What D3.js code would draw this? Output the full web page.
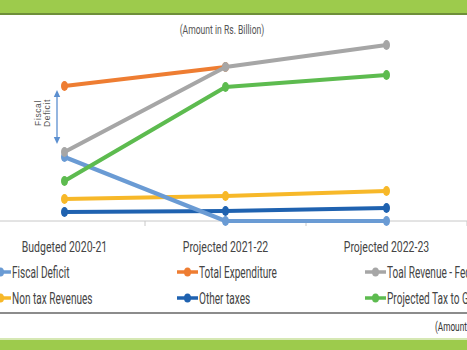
<!DOCTYPE html>
<html><head><meta charset="utf-8">
<script src="https://cdn.jsdelivr.net/npm/d3@7"></script>
<style>body{margin:0;background:#fff}svg{display:block}</style>
</head><body><svg id="c" width="467" height="350"></svg>
<script>
const categories = ["Budgeted 2020-21", "Projected 2021-22", "Projected 2022-23"];
const fiscalDeficit = [3200, 0, 0];
const totalExpenditure = [6750, 7700, null];
const totalRevenue = [3450, 7700, 8800];
const nonTaxRevenues = [1100, 1250, 1500];
const otherTaxes = [450, 500, 650];
const projectedTaxToGDP = [2000, 6700, 7300];
const seriesNames = ["Fiscal Deficit", "Total Expenditure", "Toal Revenue - Federal", "Non tax Revenues", "Other taxes", "Projected Tax to GDP"];
const seriesColors = ["#6A9BD4", "#EE7D32", "#A6A6A6", "#F7B829", "#1F62B0", "#5DBB4F"];
const seriesValues = [fiscalDeficit, totalExpenditure, totalRevenue, nonTaxRevenues, otherTaxes, projectedTaxToGDP];
const titleText = "(Amount in Rs. Billion)";

const svg = d3.select("#c");
const font = "Roboto,'Liberation Sans',sans-serif";

function ctext(parent, x, y, str, size, sx, anchor, fill) {
  const g = parent.append("g").attr("transform", `translate(${x},${y}) scale(${sx},1)`);
  return g.append("text").attr("x",0).attr("y",0).attr("text-anchor",anchor||"start")
    .attr("font-family",font).attr("font-size",size).attr("fill",fill||"#444").text(str);
}

// bands
svg.append("rect").attr("x",0).attr("y",0).attr("width",467).attr("height",13).attr("fill","#9DCB4C");
svg.append("rect").attr("x",0).attr("y",13).attr("width",467).attr("height",2).attr("fill","#6E8F3A");
svg.append("rect").attr("x",0).attr("y",340).attr("width",467).attr("height",10).attr("fill","#9DCB4C");
svg.append("rect").attr("x",0).attr("y",338).attr("width",467).attr("height",2).attr("fill","#D6E8B4");
svg.append("line").attr("x1",0).attr("x2",467).attr("y1",313).attr("y2",313).attr("stroke","#666").attr("stroke-width",1.5);

const x = d3.scaleBand().domain(categories).range([-16, 467]);
const y = d3.scaleLinear().domain([0, 10000]).range([221, 21]);

// axis
const ax = svg.append("g").attr("transform","translate(0,221)");
ax.append("line").attr("x1",0).attr("x2",467).attr("stroke","#c8c8c8").attr("stroke-width",1);
categories.forEach(c => {
  const xe = x(c) + x.bandwidth();
  ax.append("line").attr("x1",xe).attr("x2",xe).attr("y1",0).attr("y2",5).attr("stroke","#c8c8c8");
  ctext(ax, x(c)+x.bandwidth()/2, 31, c, 15, 0.7, "middle", "#444");
});

ctext(svg, 222, 34, titleText, 13, 0.66, "middle", "#555");

const cx = c => x(c) + x.bandwidth()/2;
const line = d3.line().defined(d => d.v != null).x(d => cx(d.c)).y(d => y(d.v));
const order = [3,4,0,1,2,5];
order.forEach(i => {
  const pts = categories.map((c,j) => ({c, v: seriesValues[i][j]}));
  svg.append("path").datum(pts).attr("d", line).attr("fill","none").attr("stroke",seriesColors[i])
    .attr("stroke-width",4.2).attr("stroke-linejoin","round");
  svg.selectAll(null).data(pts.filter(d => d.v != null)).enter().append("ellipse")
    .attr("cx", d => cx(d.c)).attr("cy", d => y(d.v)).attr("rx",3.5).attr("ry",5).attr("fill",seriesColors[i]);
});

// fiscal deficit annotation
const ann = svg.append("g");
const ax0 = 57, ay1 = 90, ay2 = 144;
ann.append("line").attr("x1",ax0).attr("x2",ax0).attr("y1",ay1+4).attr("y2",ay2-4).attr("stroke","#5B8FD0").attr("stroke-width",1.3);
ann.append("path").attr("d",`M${ax0-3.2},${ay1+7}L${ax0},${ay1}L${ax0+3.2},${ay1+7}Z`).attr("fill","#5B8FD0");
ann.append("path").attr("d",`M${ax0-3.2},${ay2-7}L${ax0},${ay2}L${ax0+3.2},${ay2-7}Z`).attr("fill","#5B8FD0");
const at = ann.append("text").attr("transform","translate(41,113) rotate(-90)").attr("text-anchor","middle")
  .attr("font-family","'Liberation Sans',Arial,sans-serif").attr("font-size",8.5).attr("letter-spacing",0.6).attr("fill","#555");
at.append("tspan").attr("x",0).attr("y",0).text("Fiscal");
at.append("tspan").attr("x",0).attr("y",8.5).text("Deficit");

// legend
const legX = [0, 177, 365], legY = [272, 298];
seriesNames.forEach((n,i) => {
  const col = i % 3, row = Math.floor(i/3);
  const lx = legX[col], ly = legY[row];
  const g = svg.append("g");
  const x0 = col === 0 ? -10 : lx;
  g.append("line").attr("x1",x0).attr("x2",x0+21).attr("y1",ly).attr("y2",ly).attr("stroke",seriesColors[i]).attr("stroke-width",3.5);
  g.append("ellipse").attr("cx",x0+10.5).attr("cy",ly).attr("rx",3.5).attr("ry",4.5).attr("fill",seriesColors[i]);
  ctext(g, x0+22, ly+5.5, n, 16, 0.63, "start", "#444");
});
ctext(svg, 435, 331, titleText, 12.5, 0.66, "start", "#333");
</script></body></html>
